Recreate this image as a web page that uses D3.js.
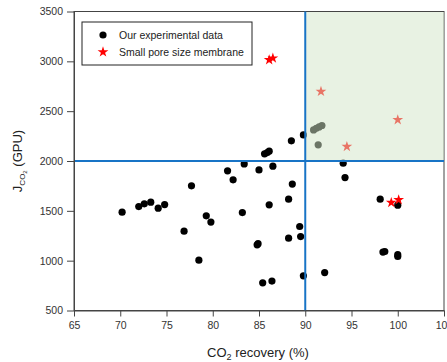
<!DOCTYPE html>
<html>
<head>
<meta charset="utf-8">
<script src="https://cdn.jsdelivr.net/npm/d3@7"></script>
<style>
  body { margin: 0; background: #fff; }
  svg { font-family: "Liberation Sans", Arial, sans-serif; }
  .axis path, .axis line { stroke: #444; }
  .axis text { fill: #333; font-size: 10.5px; }
</style>
</head>
<body>
<script>
const w = 447;
const h = 362;
const margin = {left: 74, right: 3, top: 11.5, bottom: 51.5};
const innerW = w - margin.left - margin.right;
const innerH = h - margin.top - margin.bottom;

// our experimental data: CO2 recovery (%) / J_CO2 (GPU)
const expX = [70.2, 72.0, 72.6, 73.3, 74.1, 74.8, 76.9, 77.7, 78.5, 79.3, 79.8,
              81.6, 82.2, 83.2, 83.4, 85.0, 84.8, 84.9, 86.5, 88.6, 88.2, 86.1,
              89.4, 88.2, 89.5, 85.4, 86.4, 89.8, 92.1, 94.1, 94.3, 98.1, 100.0,
              98.4, 98.6, 100.0, 100.0, 89.8, 88.5, 85.6, 85.9, 86.1,
              90.9, 91.2, 91.5, 91.8, 91.4];
const expY = [1487, 1543, 1570, 1587, 1527, 1563, 1296, 1751, 1005, 1450, 1387,
              1901, 1811, 1483, 1971, 1910, 1159, 1170, 1948, 1768, 1617, 1560,
              1343, 1226, 1242, 778, 795, 848, 881, 1978, 1834, 1617, 1557,
              1086, 1092, 1042, 1060, 2262, 2202, 2072, 2085, 2099,
              2312, 2328, 2342, 2356, 2162];

// small pore size membrane
const starX = [86.1, 86.5, 91.7, 100.0, 94.5, 99.3, 100.1];
const starY = [3015, 3032, 2697, 2413, 2145, 1583, 1610];

const xTicks = [65, 70, 75, 80, 85, 90, 95, 100, 105];
const yTicks = [500, 1000, 1500, 2000, 2500, 3000, 3500];
const legendLabels = ["Our experimental data", "Small pore size membrane"];

const x = d3.scaleLinear().domain([65, 105]).range([0, innerW]);
const y = d3.scaleLinear().domain([500, 3500]).range([innerH, 0]);

const svg = d3.select("body").append("svg")
    .attr("width", w)
    .attr("height", h);
const g = svg.append("g")
    .attr("transform", "translate(" + margin.left + "," + margin.top + ")");

// frame
g.append("rect")
    .attr("width", innerW)
    .attr("height", innerH)
    .attr("fill", "none")
    .attr("stroke", "#444")
    .attr("stroke-width", 1);

// points
g.append("g").selectAll("circle")
    .data(expX.map((d, i) => [d, expY[i]]))
    .enter().append("circle")
    .attr("cx", d => x(d[0]))
    .attr("cy", d => y(d[1]))
    .attr("r", 3.6)
    .attr("fill", "#000");

const star = d3.symbol().type(d3.symbolStar).size(36);
g.append("g").selectAll("path")
    .data(starX.map((d, i) => [d, starY[i]]))
    .enter().append("path")
    .attr("d", star)
    .attr("transform", d => "translate(" + x(d[0]) + "," + y(d[1]) + ")")
    .attr("fill", "#ff0000");

// target region, drawn over the marks
g.append("rect")
    .attr("x", x(90))
    .attr("y", y(3500))
    .attr("width", x(105) - x(90))
    .attr("height", y(2000) - y(3500))
    .attr("fill", "rgb(210,229,200)")
    .attr("fill-opacity", 0.51);

// top border again so it stays dark
g.append("line")
    .attr("x1", 0).attr("x2", innerW)
    .attr("y1", 0).attr("y2", 0)
    .attr("stroke", "#444");

// blue guide lines
g.append("line")
    .attr("x1", x(90)).attr("x2", x(90))
    .attr("y1", 0).attr("y2", innerH)
    .attr("stroke", "#1874c6").attr("stroke-width", 2);
g.append("line")
    .attr("x1", 0).attr("x2", innerW)
    .attr("y1", y(2000)).attr("y2", y(2000))
    .attr("stroke", "#1874c6").attr("stroke-width", 2);

// axes
g.append("g")
    .attr("class", "axis")
    .attr("transform", "translate(0," + innerH + ")")
    .call(d3.axisBottom(x).tickValues(xTicks).tickFormat(d3.format("d"))
        .tickSize(6).tickPadding(5).tickSizeOuter(0));
g.append("g")
    .attr("class", "axis")
    .call(d3.axisLeft(y).tickValues(yTicks).tickFormat(d3.format("d"))
        .tickSize(7).tickPadding(4).tickSizeOuter(0));

// axis titles
svg.append("text")
    .attr("x", 258)
    .attr("y", 357)
    .attr("text-anchor", "middle")
    .attr("font-size", "13px")
    .attr("fill", "#222")
    .html('CO<tspan font-size="9px" dy="3">2</tspan><tspan dy="-3"> recovery (%)</tspan>');

svg.append("text")
    .attr("transform", "translate(22,161) rotate(-90)")
    .attr("text-anchor", "middle")
    .attr("font-size", "13px")
    .attr("fill", "#222")
    .html('J<tspan font-size="8px" dy="3">CO</tspan><tspan font-size="6px" dy="2">2</tspan><tspan dy="-5"> (GPU)</tspan>');

// legend
const lg = svg.append("g").attr("transform", "translate(82,22)");
lg.append("rect")
    .attr("width", 170)
    .attr("height", 43)
    .attr("fill", "#fff")
    .attr("stroke", "#222");
lg.append("circle")
    .attr("cx", 21).attr("cy", 13).attr("r", 3.6)
    .attr("fill", "#000");
lg.append("path")
    .attr("d", star)
    .attr("transform", "translate(21,30)")
    .attr("fill", "#ff0000");
lg.selectAll(".lbl")
    .data(legendLabels)
    .enter().append("text")
    .attr("class", "lbl")
    .attr("x", 37)
    .attr("y", (d, i) => 17 + i * 17)
    .attr("font-size", "10.5px")
    .attr("fill", "#222")
    .text(d => d);
</script>
</body>
</html>
